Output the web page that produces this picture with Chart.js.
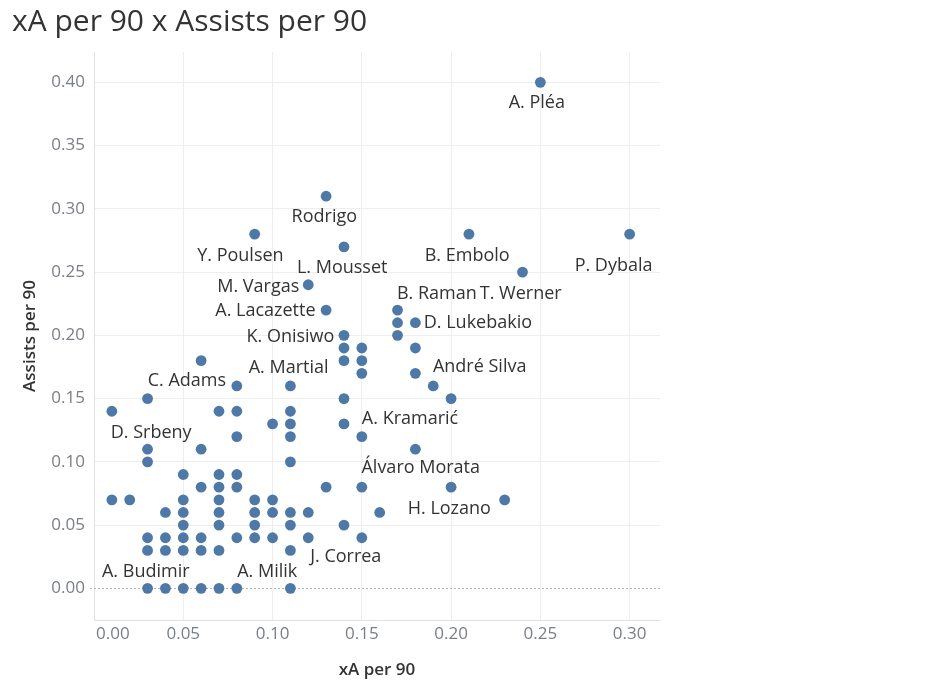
<!DOCTYPE html>
<html lang="en">
  <head>
    <meta charset="UTF-8">
    <title>xA per 90 x Assists per 90</title>
    <script src="https://cdn.jsdelivr.net/npm/chart.js"></script>
    <style>
      html, body { margin: 0; padding: 0; background: #fff; }
      #wrap { position: relative; width: 934px; height: 691px; }
    </style>
  </head>
  <body>
    <div id="wrap">
      <canvas id="scatterChart" width="934" height="691"></canvas>
    </div>

    <script>
      // xA per 90 (x) and Assists per 90 (y), one pair per player
      const xaPer90 = [
        0.25,
        0.13,
        0.09, 0.21, 0.30,
        0.14,
        0.24,
        0.12,
        0.13, 0.17,
        0.17, 0.18,
        0.14, 0.17,
        0.14, 0.15, 0.18,
        0.06, 0.14, 0.15,
        0.15, 0.18,
        0.08, 0.11, 0.19,
        0.03, 0.14, 0.20,
        0.01, 0.07, 0.08, 0.11,
        0.10, 0.11, 0.14,
        0.08, 0.11, 0.15,
        0.03, 0.06, 0.18,
        0.03, 0.11,
        0.05, 0.07, 0.08,
        0.06, 0.07, 0.08, 0.13, 0.15, 0.20,
        0.01, 0.02, 0.05, 0.07, 0.09, 0.10, 0.23,
        0.04, 0.05, 0.07, 0.09, 0.10, 0.11, 0.12, 0.16,
        0.05, 0.07, 0.09, 0.11, 0.14,
        0.03, 0.04, 0.05, 0.06, 0.08, 0.09, 0.10, 0.12, 0.15,
        0.03, 0.04, 0.05, 0.06, 0.07, 0.11,
        0.03, 0.04, 0.05, 0.06, 0.07, 0.08, 0.11
      ];
      const assistsPer90 = [
        0.40,
        0.31,
        0.28, 0.28, 0.28,
        0.27,
        0.25,
        0.24,
        0.22, 0.22,
        0.21, 0.21,
        0.20, 0.20,
        0.19, 0.19, 0.19,
        0.18, 0.18, 0.18,
        0.17, 0.17,
        0.16, 0.16, 0.16,
        0.15, 0.15, 0.15,
        0.14, 0.14, 0.14, 0.14,
        0.13, 0.13, 0.13,
        0.12, 0.12, 0.12,
        0.11, 0.11, 0.11,
        0.10, 0.10,
        0.09, 0.09, 0.09,
        0.08, 0.08, 0.08, 0.08, 0.08, 0.08,
        0.07, 0.07, 0.07, 0.07, 0.07, 0.07, 0.07,
        0.06, 0.06, 0.06, 0.06, 0.06, 0.06, 0.06, 0.06,
        0.05, 0.05, 0.05, 0.05, 0.05,
        0.04, 0.04, 0.04, 0.04, 0.04, 0.04, 0.04, 0.04, 0.04,
        0.03, 0.03, 0.03, 0.03, 0.03, 0.03,
        0.00, 0.00, 0.00, 0.00, 0.00, 0.00, 0.00
      ];

      // player name labels, placed in data units
      const labelNames = [
        'A. Pléa', 'Rodrigo', 'Y. Poulsen', 'B. Embolo', 'P. Dybala', 'L. Mousset',
        'T. Werner', 'M. Vargas', 'A. Lacazette', 'B. Raman', 'D. Lukebakio',
        'K. Onisiwo', 'A. Martial', 'C. Adams', 'André Silva', 'A. Kramarić',
        'D. Srbeny', 'Álvaro Morata', 'H. Lozano', 'J. Correa', 'A. Budimir', 'A. Milik'
      ];
      const labelX = [
        0.248, 0.129, 0.082, 0.209, 0.291, 0.139,
        0.239, 0.092, 0.096, 0.192, 0.215,
        0.110, 0.109, 0.052, 0.216, 0.177,
        0.032, 0.183, 0.199, 0.141, 0.029, 0.097
      ];
      const labelY = [
        0.384, 0.294, 0.263, 0.263, 0.255, 0.253,
        0.233, 0.238, 0.219, 0.233, 0.210,
        0.199, 0.174, 0.164, 0.175, 0.134,
        0.123, 0.095, 0.063, 0.025, 0.013, 0.013
      ];

      const xTicks = [0.00, 0.05, 0.10, 0.15, 0.20, 0.25, 0.30];
      const yTicks = [0.00, 0.05, 0.10, 0.15, 0.20, 0.25, 0.30, 0.35, 0.40];

      const FONT = "'Open Sans', 'Noto Sans', sans-serif";
      const TICK_COLOR = '#7a7f86';

      const points = xaPer90.map((x, i) => ({ x: x, y: assistsPer90[i] }));

      // dotted zero line + player labels + x tick labels kept inside the pane
      const extrasPlugin = {
        id: 'extras',
        beforeDatasetsDraw(chart) {
          const { ctx, chartArea, scales } = chart;
          const y0 = scales.y.getPixelForValue(0);
          ctx.save();
          ctx.strokeStyle = '#b5b5b5';
          ctx.lineWidth = 1;
          ctx.setLineDash([2, 2]);
          ctx.beginPath();
          ctx.moveTo(chartArea.left - 4, Math.round(y0) + 0.5);
          ctx.lineTo(chartArea.right, Math.round(y0) + 0.5);
          ctx.stroke();
          ctx.restore();
        },
        afterDatasetsDraw(chart) {
          const { ctx, chartArea, scales } = chart;
          ctx.save();
          ctx.font = '18px ' + FONT;
          ctx.fillStyle = '#333333';
          ctx.textAlign = 'center';
          ctx.textBaseline = 'middle';
          labelNames.forEach((name, i) => {
            ctx.fillText(name, scales.x.getPixelForValue(labelX[i]), scales.y.getPixelForValue(labelY[i]));
          });

          ctx.font = '17px ' + FONT;
          ctx.fillStyle = TICK_COLOR;
          ctx.textBaseline = 'top';
          xTicks.forEach(v => {
            const txt = v.toFixed(2);
            const w = ctx.measureText(txt).width;
            let px = scales.x.getPixelForValue(v);
            px = Math.max(px, chartArea.left + w / 2 + 2);
            ctx.fillText(txt, px, chartArea.bottom + 6);
          });
          ctx.restore();
        }
      };

      const ctx = document.getElementById('scatterChart').getContext('2d');
      new Chart(ctx, {
        type: 'scatter',
        data: {
          datasets: [{
            label: 'Players',
            data: points,
            backgroundColor: '#4e79a7',
            borderColor: '#4e79a7',
            borderWidth: 0,
            pointRadius: 5.4,
            pointHoverRadius: 5.4
          }]
        },
        options: {
          responsive: false,
          animation: false,
          events: [],
          layout: { padding: { left: 12, right: 274, top: 0, bottom: 0 } },
          plugins: {
            legend: { display: false },
            tooltip: { enabled: false },
            title: {
              display: true,
              text: 'xA per 90 x Assists per 90',
              align: 'start',
              color: '#333333',
              font: { family: FONT, size: 30, weight: '400' },
              padding: { top: 4, bottom: 12 }
            }
          },
          scales: {
            x: {
              type: 'linear',
              min: 0,
              max: 0.317,
              afterBuildTicks: scale => { scale.ticks = xTicks.map(v => ({ value: v })); },
              afterFit: scale => { scale.height = 71; },
              grid: { color: '#eeeeee', drawTicks: false },
              border: { display: true, color: '#e2e2e2' },
              ticks: { display: false },
              title: {
                display: true,
                text: 'xA per 90',
                color: '#333333',
                font: { family: FONT, size: 17, weight: '600' },
                padding: { top: 0, bottom: 11 }
              }
            },
            y: {
              type: 'linear',
              min: -0.025,
              max: 0.424,
              afterBuildTicks: scale => { scale.ticks = yTicks.map(v => ({ value: v })); },
              afterFit: scale => { scale.width = 82; },
              grid: {
                color: ctx => (ctx.tick && ctx.tick.value === 0 ? 'rgba(0,0,0,0)' : '#eeeeee'),
                drawTicks: false
              },
              border: { display: true, color: '#e2e2e2' },
              ticks: {
                color: TICK_COLOR,
                font: { family: FONT, size: 17 },
                padding: 9,
                callback: v => Number(v).toFixed(2)
              },
              title: {
                display: true,
                text: 'Assists per 90',
                color: '#333333',
                font: { family: FONT, size: 17, weight: '600' },
                padding: { top: 8, bottom: 0 }
              }
            }
          }
        },
        plugins: [extrasPlugin]
      });
    </script>
  </body>
</html>
